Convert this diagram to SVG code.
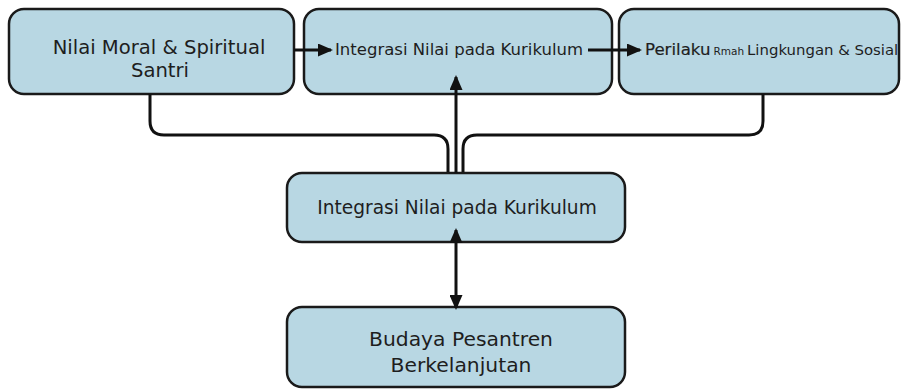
<svg xmlns="http://www.w3.org/2000/svg" width="902" height="389" viewBox="0 0 902 389">
  <defs>
    <style>
      .box { fill: #b8d7e3; stroke: #1a1a1a; stroke-width: 2.5; }
      .lbl { font-family: "DejaVu Sans", "Liberation Sans", sans-serif; fill: #1e1e1e; }
      .con { fill: none; stroke: #111; stroke-width: 3; }
    </style>
    <marker id="ah" markerUnits="userSpaceOnUse" markerWidth="15" markerHeight="13" refX="13" refY="6.5" orient="auto-start-reverse">
      <path d="M0,0 L15,6.5 L0,13 z" fill="#111"/>
    </marker>
  </defs>
  <rect width="902" height="389" fill="#ffffff"/>

  <g id="node-moral">
    <rect class="box" x="9" y="9" width="285" height="85" rx="15"/>
    <text class="lbl" font-size="19.6" text-anchor="middle" x="159" y="54">Nilai Moral &amp; Spiritual</text>
    <text class="lbl" font-size="19.6" text-anchor="middle" x="160" y="77">Santri</text>
  </g>

  <g id="node-integrasi-top">
    <rect class="box" x="304" y="9" width="308" height="85" rx="15"/>
    <text class="lbl" font-size="16.5" x="335" y="55">Integrasi Nilai pada Kurikulum</text>
  </g>

  <g id="node-perilaku">
    <rect class="box" x="619" y="9" width="280" height="85" rx="15"/>
    <text class="lbl" x="645" y="55"><tspan font-size="16.6" stroke="#1e1e1e" stroke-width="0.2">Perilaku</tspan><tspan font-size="10.5" dx="3">Rmah</tspan><tspan font-size="14.9" dx="3">Lingkungan &amp; Sosial</tspan></text>
  </g>

  <g id="node-integrasi-mid">
    <rect class="box" x="287" y="173" width="338" height="69" rx="15"/>
    <text class="lbl" font-size="18.6" text-anchor="middle" x="457" y="214">Integrasi Nilai pada Kurikulum</text>
  </g>

  <g id="node-budaya">
    <rect class="box" x="287" y="307" width="338" height="80" rx="15"/>
    <text class="lbl" font-size="20.3" text-anchor="middle" x="461" y="346">Budaya Pesantren</text>
    <text class="lbl" font-size="20.3" text-anchor="middle" x="461" y="372">Berkelanjutan</text>
  </g>

  <g id="connectors">
    <path class="con" d="M294,50 H331" marker-end="url(#ah)"/>
    <path class="con" d="M588,50 H640" marker-end="url(#ah)"/>
    <path class="con" d="M150,94 V121 Q150,135 164,135 H434 Q448,135 448,149 V172"/>
    <path class="con" d="M763,94 V121 Q763,135 749,135 H477 Q463,135 463,149 V172"/>
    <path class="con" d="M456,173 V77" marker-end="url(#ah)"/>
    <path class="con" d="M456,230 V308" marker-start="url(#ah)" marker-end="url(#ah)"/>
  </g>
</svg>
